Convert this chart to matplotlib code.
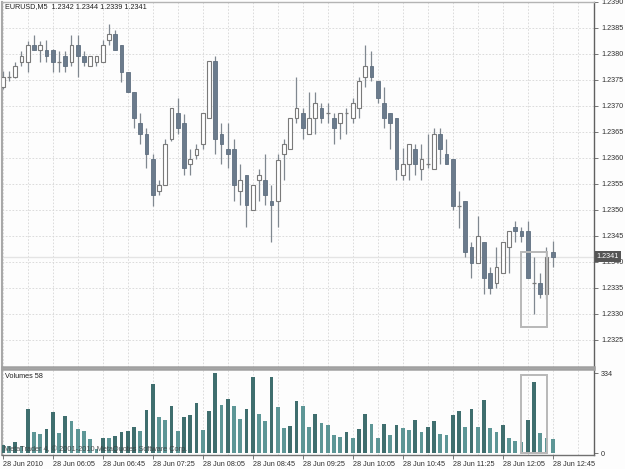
import matplotlib
matplotlib.use("Agg")
import matplotlib.pyplot as plt
from matplotlib.patches import Rectangle
import numpy as np

plt.rcParams["font.family"] = ["Liberation Sans", "DejaVu Sans"]

# EURUSD M5, 28 Jun 2010, first bar 05:25
opens = [1.23737, 1.23756, 1.23756, 1.23784, 1.23784, 1.23817, 1.23807, 1.23807, 1.23807, 1.23784,
         1.23796, 1.23784, 1.23817, 1.23796, 1.23777, 1.23784, 1.23784, 1.23827, 1.23838, 1.23817,
         1.23765, 1.23727, 1.23668, 1.23647, 1.23599, 1.23537, 1.23549, 1.23637, 1.23687, 1.23668,
         1.23589, 1.23606, 1.23627, 1.23677, 1.23786, 1.23647, 1.23618, 1.23618, 1.23537, 1.23568,
         1.23499, 1.23558, 1.23558, 1.23518, 1.23518, 1.23608, 1.23618, 1.23677, 1.23687, 1.23647,
         1.23677, 1.23696, 1.23687, 1.23677, 1.23668, 1.23687, 1.23677, 1.23696, 1.23756, 1.23777,
         1.23748, 1.23706, 1.23687, 1.23677, 1.23568, 1.23589, 1.23618, 1.23578, 1.23589, 1.23578,
         1.23647, 1.23608, 1.23599, 1.23507, 1.23518, 1.23428, 1.23398, 1.23438, 1.23378, 1.23359,
         1.23378, 1.23428, 1.23468, 1.23459, 1.23459, 1.23359, 1.23359, 1.23338, 1.2342]
highs = [1.23767, 1.23767, 1.23784, 1.23806, 1.23825, 1.23836, 1.23825, 1.23827, 1.23809, 1.23806,
         1.23806, 1.23836, 1.23836, 1.23806, 1.23796, 1.23796, 1.23827, 1.23857, 1.23846, 1.23817,
         1.23765, 1.23727, 1.23687, 1.23658, 1.23608, 1.23557, 1.23637, 1.23696, 1.23716, 1.23685,
         1.23618, 1.23627, 1.23687, 1.23786, 1.23796, 1.23668, 1.23668, 1.23637, 1.23589, 1.23568,
         1.23549, 1.23578, 1.23608, 1.23549, 1.23608, 1.23637, 1.23677, 1.23756, 1.23696, 1.23727,
         1.23727, 1.23706, 1.23706, 1.23687, 1.23687, 1.23696, 1.23716, 1.23756, 1.23817, 1.23806,
         1.23748, 1.23737, 1.23687, 1.23677, 1.23620, 1.23627, 1.23627, 1.23627, 1.23647, 1.23658,
         1.23658, 1.23637, 1.23599, 1.23537, 1.23518, 1.23438, 1.23488, 1.23438, 1.23390, 1.23428,
         1.23438, 1.23459, 1.23478, 1.23468, 1.23478, 1.23409, 1.23378, 1.23428, 1.2344]
lows = [1.23733, 1.23748, 1.23754, 1.23777, 1.23765, 1.23807, 1.23784, 1.23784, 1.23765, 1.23765,
        1.23765, 1.23777, 1.23756, 1.23777, 1.23777, 1.23777, 1.23784, 1.23817, 1.23807, 1.23746,
        1.23727, 1.23658, 1.23627, 1.23580, 1.23507, 1.23528, 1.23549, 1.23633, 1.23647, 1.23568,
        1.23568, 1.23599, 1.23618, 1.23677, 1.23608, 1.23589, 1.23580, 1.23518, 1.23509, 1.23468,
        1.23499, 1.23518, 1.23509, 1.23438, 1.23468, 1.23558, 1.23618, 1.23668, 1.23637, 1.23647,
        1.23647, 1.23668, 1.23668, 1.23627, 1.23637, 1.23647, 1.23668, 1.23677, 1.23737, 1.23748,
        1.23706, 1.23658, 1.23618, 1.23558, 1.23558, 1.23558, 1.23568, 1.23558, 1.23581, 1.23578,
        1.23589, 1.23589, 1.23499, 1.23466, 1.23409, 1.23369, 1.23398, 1.23338, 1.23338, 1.23350,
        1.23378, 1.23378, 1.23438, 1.23438, 1.23369, 1.23300, 1.23330, 1.23329, 1.2339]
closes = [1.23756, 1.23756, 1.23777, 1.23796, 1.23817, 1.23807, 1.23817, 1.23796, 1.23784, 1.23784,
          1.23777, 1.23817, 1.23796, 1.23784, 1.23796, 1.23796, 1.23817, 1.23838, 1.23807, 1.23765,
          1.23727, 1.23677, 1.23647, 1.23608, 1.23528, 1.23549, 1.23627, 1.23696, 1.23658, 1.23580,
          1.23599, 1.23618, 1.23687, 1.23786, 1.23637, 1.23627, 1.23608, 1.23549, 1.23558, 1.23509,
          1.23549, 1.23568, 1.23528, 1.23509, 1.23596, 1.23627, 1.23677, 1.23696, 1.23658, 1.23677,
          1.23706, 1.23677, 1.23687, 1.23658, 1.23687, 1.23687, 1.23706, 1.23748, 1.23777, 1.23756,
          1.23716, 1.23677, 1.23668, 1.23578, 1.23589, 1.23627, 1.23589, 1.23599, 1.23589, 1.23647,
          1.23618, 1.23589, 1.23507, 1.23507, 1.23419, 1.23398, 1.23449, 1.23369, 1.23350, 1.23390,
          1.23438, 1.23459, 1.23459, 1.23449, 1.23369, 1.23359, 1.23338, 1.23409, 1.2341]
volumes = [35, 31, 46, 31, 185, 88, 81, 100, 173, 85,
           157, 134, 100, 95, 59, 20, 65, 63, 71, 88,
           95, 111, 95, 183, 289, 153, 138, 197, 93, 151,
           160, 209, 98, 177, 334, 203, 226, 199, 144, 187,
           321, 164, 134, 318, 192, 105, 114, 219, 199, 111,
           164, 128, 117, 78, 68, 88, 63, 102, 164, 121,
           65, 121, 78, 118, 105, 98, 141, 89, 109, 134,
           82, 75, 160, 177, 111, 184, 111, 223, 105, 89,
           118, 63, 50, 46, 138, 300, 85, 65, 58]

date_ticks = [0, 8, 16, 24, 32, 40, 48, 56, 64, 72, 80, 88]
date_labels = ["28 Jun 2010", "28 Jun 06:05", "28 Jun 06:45", "28 Jun 07:25",
               "28 Jun 08:05", "28 Jun 08:45", "28 Jun 09:25", "28 Jun 10:05",
               "28 Jun 10:45", "28 Jun 11:25", "28 Jun 12:05", "28 Jun 12:45"]
price_ticks = [1.2325, 1.2330, 1.2335, 1.2340, 1.2345, 1.2350, 1.2355,
               1.2360, 1.2365, 1.2370, 1.2375, 1.2380, 1.2385, 1.2390]
vol_ticks = [0, 334]

# drawn rectangle objects on the chart
box_bars = (82.9, 87.05)
box_prices = (1.23275, 1.23419)
box_vol_top = 326

W, H = 625, 469
BG = "#fdfdfd"
DARK = "#6b7b8c"
EDGE = "#7a7a7a"
WICK = "#808890"
VOL_UP = "#3f6e6e"
VOL_DN = "#5d9696"
GRID = "#d6d6d6"
TXT = "#303030"
FS = 5.2

o = np.array(opens); h = np.array(highs); l = np.array(lows); c = np.array(closes)
v = np.array(volumes)
x = np.arange(len(o))

fig = plt.figure(figsize=(W / 100, H / 100), dpi=100, facecolor=BG)
ax = fig.add_axes([2 / W, 1 - 367 / H, 592 / W, 365 / H], facecolor=BG)
axv = fig.add_axes([2 / W, 1 - 455 / H, 592 / W, 86 / H], facecolor=BG)

# --- price panel ---
ax.axhline(c[-1], color="#e4e4e4", lw=1, zorder=1)
ax.vlines(x, l, h, color=WICK, lw=0.9, zorder=2)
up = c > o
dn = c < o
eq = ~(up | dn)
bw = 0.58
ax.bar(x[up], (c - o)[up], bottom=o[up], width=bw, color="white",
       edgecolor=EDGE, linewidth=0.8, zorder=3)
ax.bar(x[dn], (o - c)[dn], bottom=c[dn], width=bw, color=DARK,
       edgecolor="#5f6f80", linewidth=0.6, zorder=3)
ax.hlines(o[eq], x[eq] - bw / 2, x[eq] + bw / 2, color=EDGE, lw=0.9, zorder=3)

ax.add_patch(Rectangle((box_bars[0], box_prices[0]), box_bars[1] - box_bars[0],
                       box_prices[1] - box_prices[0], fill=False,
                       ec="#b8b8b8", lw=1.4, zorder=4))

ax.set_xlim(-0.112, 94.61)
ax.set_ylim(1.23198, 1.23900)
ax.yaxis.tick_right()
ax.set_yticks(price_ticks)
ax.set_yticklabels([f"{p:.4f}" for p in price_ticks])
ax.set_xticks(np.arange(0, 95, 4))
ax.tick_params(axis="x", length=0, labelbottom=False)
ax.tick_params(axis="y", length=3, width=0.6, color="#606060",
               labelsize=FS, labelcolor=TXT, pad=2)
ax.grid(True, color=GRID, ls=(0, (2, 2)), lw=0.6)
ax.set_axisbelow(True)
for side, col, lw in [("left", "#a8a8a8", 1.5), ("right", "#606060", 1.0),
                      ("top", "#b4b4b4", 1.0), ("bottom", "#a0a0a0", 1.8)]:
    ax.spines[side].set_color(col)
    ax.spines[side].set_linewidth(lw)

ax.annotate(f"{c[-1]:.4f}", xy=(1, c[-1]), xycoords=("axes fraction", "data"),
            xytext=(2, 0), textcoords="offset points", ha="left", va="center",
            fontsize=FS, color="white",
            bbox=dict(boxstyle="square,pad=0.3", fc="#555555", ec="none"))

fig.text(5 / W, 1 - 7 / H,
         f"EURUSD,M5  {o[-1]:.4f} {h[-1]:.4f} {l[-1]:.4f} {c[-1]:.4f}",
         fontsize=FS, color="#202020", va="center", ha="left")

# --- volume panel ---
vcol = [VOL_UP if i > 0 and v[i] > v[i - 1] else VOL_DN for i in range(len(v))]
vcol[0] = VOL_UP
axv.bar(x, v, width=0.58, color=vcol, zorder=3)
axv.add_patch(Rectangle((box_bars[0], 0), box_bars[1] - box_bars[0], box_vol_top,
                        fill=False, ec="#b8b8b8", lw=1.4, zorder=4))
axv.set_xlim(-0.112, 94.61)
axv.set_ylim(-7, 352.8)
axv.yaxis.tick_right()
axv.set_yticks(vol_ticks)
axv.set_yticklabels([str(t) for t in vol_ticks])
axv.set_xticks(date_ticks)
axv.set_xticklabels(date_labels)
for lab in axv.get_xticklabels():
    lab.set_horizontalalignment("left")
axv.set_xticks(np.arange(4, 95, 8), minor=True)
axv.tick_params(axis="x", which="major", length=3, width=0.6, color="#606060",
                labelsize=FS, labelcolor=TXT, pad=1.5)
axv.tick_params(axis="x", which="minor", length=0)
axv.tick_params(axis="y", length=3, width=0.6, color="#606060",
                labelsize=FS, labelcolor=TXT, pad=2)
axv.grid(True, axis="x", which="both", color=GRID, ls=(0, (2, 2)), lw=0.6)
axv.set_axisbelow(True)
for side, col, lw in [("left", "#a8a8a8", 1.5), ("right", "#606060", 1.0),
                      ("top", "#a0a0a0", 1.8), ("bottom", "#707070", 1.0)]:
    axv.spines[side].set_color(col)
    axv.spines[side].set_linewidth(lw)

fig.text(5 / W, 1 - 376 / H, f"Volumes {v[-1]}", fontsize=FS,
         color="#202020", va="center", ha="left")
fig.text(4 / W, 1 - 449 / H,
         "MetaTrader 4, \u00a9 2001-2010 MetaQuotes Software Corp.",
         fontsize=5.3, color="#3a3a3a", alpha=0.85, va="center", ha="left",
         zorder=10)

fig.savefig("out.png", dpi=100, facecolor=BG)
